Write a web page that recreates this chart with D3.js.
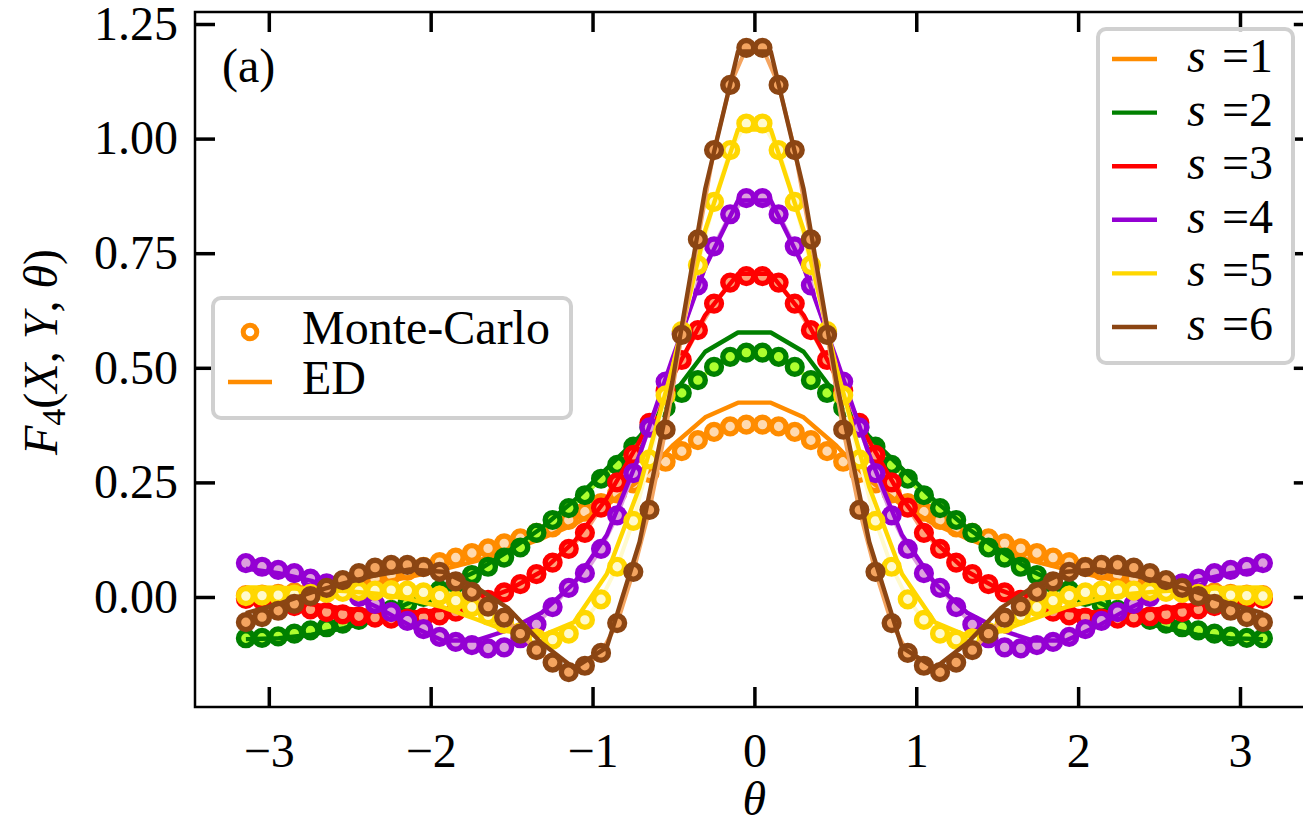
<!DOCTYPE html>
<html>
<head>
<meta charset="utf-8">
<script src="https://cdn.jsdelivr.net/npm/d3@7"></script>
<style>
  body { margin: 0; background: #fff; }
  svg { display: block; font-family: "Liberation Serif", "DejaVu Serif", serif; }
</style>
</head>
<body>
<div id="chart"></div>
<script>
// Data
const sLabels = ["1", "2", "3", "4", "5", "6"];
const xTicks = [-3, -2, -1, 0, 1, 2, 3];
const yTicks = [0, 0.25, 0.5, 0.75, 1.0, 1.25];

// theta grids: 64 Monte-Carlo points and 32 ED points on [-pi, pi]
const thetaMC = d3.range(64).map(k => -Math.PI + k * 2 * Math.PI / 63);
const thetaED = d3.range(32).map(k => -Math.PI + k * 2 * Math.PI / 31);

const mc1 = [0.004,0.005,0.007,0.01,0.015,0.02,0.026,0.033,0.04,0.048,0.057,0.066,0.076,0.086,0.096,0.106,0.117,0.128,0.14,0.152,0.168,0.186,0.205,0.226,0.248,0.27,0.295,0.318,0.342,0.36,0.372,0.376,
             0.376,0.372,0.36,0.342,0.318,0.295,0.27,0.248,0.226,0.205,0.186,0.168,0.152,0.14,0.128,0.117,0.106,0.096,0.086,0.076,0.066,0.057,0.048,0.04,0.033,0.026,0.02,0.015,0.01,0.007,0.005,0.004];
const mc2 = [-0.09,-0.089,-0.086,-0.08,-0.073,-0.066,-0.058,-0.05,-0.04,-0.028,-0.015,0.0,0.015,0.03,0.048,0.066,0.086,0.108,0.14,0.168,0.194,0.222,0.258,0.288,0.328,0.37,0.413,0.445,0.473,0.502,0.524,0.533,
             0.533,0.524,0.502,0.473,0.445,0.413,0.37,0.328,0.288,0.258,0.222,0.194,0.168,0.14,0.108,0.086,0.066,0.048,0.03,0.015,0.0,-0.015,-0.028,-0.04,-0.05,-0.058,-0.066,-0.073,-0.08,-0.086,-0.089,-0.09];
const mc3 = [-0.004,-0.007,-0.013,-0.02,-0.027,-0.033,-0.038,-0.042,-0.045,-0.047,-0.047,-0.045,-0.04,-0.032,-0.02,-0.006,0.01,0.028,0.05,0.075,0.105,0.14,0.195,0.25,0.31,0.38,0.45,0.517,0.582,0.64,0.686,0.7,
             0.7,0.686,0.64,0.582,0.517,0.45,0.38,0.31,0.25,0.195,0.14,0.105,0.075,0.05,0.028,0.01,-0.006,-0.02,-0.032,-0.04,-0.045,-0.047,-0.047,-0.045,-0.042,-0.038,-0.033,-0.027,-0.02,-0.013,-0.007,-0.004];
const mc4 = [0.074,0.066,0.059,0.052,0.04,0.03,0.015,0.0,-0.015,-0.033,-0.052,-0.07,-0.087,-0.098,-0.105,-0.112,-0.11,-0.09,-0.06,-0.022,0.02,0.052,0.105,0.178,0.27,0.37,0.47,0.575,0.68,0.765,0.835,0.87,
             0.87,0.835,0.765,0.68,0.575,0.47,0.37,0.27,0.178,0.105,0.052,0.02,-0.022,-0.06,-0.09,-0.11,-0.112,-0.105,-0.098,-0.087,-0.07,-0.052,-0.033,-0.015,0.0,0.015,0.03,0.04,0.052,0.059,0.066,0.074];
const mc5 = [0.002,0.003,0.004,0.005,0.007,0.009,0.011,0.013,0.014,0.015,0.014,0.01,0.003,-0.008,-0.022,-0.04,-0.058,-0.077,-0.09,-0.093,-0.08,-0.05,-0.005,0.066,0.166,0.3,0.44,0.58,0.724,0.862,0.975,1.033,
             1.033,0.975,0.862,0.724,0.58,0.44,0.3,0.166,0.066,-0.005,-0.05,-0.08,-0.093,-0.09,-0.077,-0.058,-0.04,-0.022,-0.008,0.003,0.01,0.014,0.015,0.014,0.013,0.011,0.009,0.007,0.005,0.004,0.003,0.002];
const mc6 = [-0.055,-0.044,-0.03,-0.015,0.002,0.02,0.037,0.052,0.064,0.07,0.07,0.065,0.055,0.034,0.011,-0.021,-0.045,-0.08,-0.116,-0.143,-0.164,-0.15,-0.122,-0.057,0.055,0.19,0.365,0.572,0.78,0.975,1.117,1.198,
             1.198,1.117,0.975,0.78,0.572,0.365,0.19,0.055,-0.057,-0.122,-0.15,-0.164,-0.143,-0.116,-0.08,-0.045,-0.021,0.011,0.034,0.055,0.065,0.07,0.07,0.064,0.052,0.037,0.02,0.002,-0.015,-0.03,-0.044,-0.055];

const ed1 = [0.003,0.005,0.01,0.018,0.03,0.044,0.06,0.078,0.1,0.127,0.158,0.2,0.255,0.33,0.392,0.424,
             0.424,0.392,0.33,0.255,0.2,0.158,0.127,0.1,0.078,0.06,0.044,0.03,0.018,0.01,0.005,0.003];
const ed2 = [-0.092,-0.09,-0.082,-0.068,-0.045,-0.012,0.022,0.055,0.1,0.15,0.21,0.28,0.35,0.44,0.535,0.577,
             0.577,0.535,0.44,0.35,0.28,0.21,0.15,0.1,0.055,0.022,-0.012,-0.045,-0.068,-0.082,-0.09,-0.092];
const ed3 = [-0.001,-0.007,-0.016,-0.025,-0.032,-0.034,-0.028,-0.012,0.015,0.055,0.12,0.215,0.34,0.48,0.615,0.705,
             0.705,0.615,0.48,0.34,0.215,0.12,0.055,0.015,-0.012,-0.028,-0.034,-0.032,-0.025,-0.016,-0.007,-0.001];
const ed4 = [0.062,0.052,0.035,0.01,-0.022,-0.062,-0.095,-0.095,-0.072,-0.035,0.03,0.135,0.31,0.52,0.72,0.865,
             0.865,0.72,0.52,0.31,0.135,0.03,-0.035,-0.072,-0.095,-0.095,-0.062,-0.022,0.01,0.035,0.052,0.062];
const ed5 = [0.021,0.02,0.017,0.013,0.007,-0.005,-0.022,-0.048,-0.075,-0.085,-0.055,0.05,0.24,0.5,0.8,1.02,
             1.02,0.8,0.5,0.24,0.05,-0.055,-0.085,-0.075,-0.048,-0.022,-0.005,0.007,0.013,0.017,0.02,0.021];
const ed6 = [-0.035,-0.015,0.01,0.03,0.048,0.06,0.055,0.022,-0.025,-0.1,-0.155,-0.11,0.12,0.47,0.89,1.19,
             1.19,0.89,0.47,0.12,-0.11,-0.155,-0.1,-0.025,0.022,0.055,0.06,0.048,0.03,0.01,-0.015,-0.035];

const mcValues = [mc1, mc2, mc3, mc4, mc5, mc6];
const edValues = [ed1, ed2, ed3, ed4, ed5, ed6];

// styles
const lineColors = ["#ff8c00", "#008000", "#ff0000", "#9400d3", "#ffd700", "#8b4513"];
const fillColors = ["#ffdab0", "#adff2f", "#ffa07a", "#dda0dd", "#fffacd", "#f4a460"];
const fontSize = 48;

const width = 1303, height = 823;
const plot = { left: 195, right: 1313.8, top: 12, bottom: 707 };

const svg = d3.select("#chart").append("svg")
  .attr("width", width)
  .attr("height", height)
  .attr("viewBox", `0 0 ${width} ${height}`);

const x = d3.scaleLinear().domain([-3.456, 3.456]).range([plot.left, plot.right]);
const y = d3.scaleLinear().domain([-0.24, 1.2762]).range([plot.bottom, plot.top]);

svg.append("clipPath").attr("id", "clip")
  .append("rect")
  .attr("x", plot.left).attr("y", plot.top)
  .attr("width", plot.right - plot.left).attr("height", plot.bottom - plot.top);

// curves: MC markers joined by a light line, then the ED line
const gData = svg.append("g").attr("clip-path", "url(#clip)");

sLabels.forEach((s, i) => {
  const mc = mcValues[i], ed = edValues[i];

  gData.append("path")
    .datum(mc)
    .attr("fill", "none")
    .attr("stroke", fillColors[i])
    .attr("stroke-width", 4)
    .attr("d", d3.line().x((v, j) => x(thetaMC[j])).y(v => y(v)));

  gData.append("g").selectAll("circle")
    .data(mc).enter().append("circle")
    .attr("cx", (v, j) => x(thetaMC[j]))
    .attr("cy", v => y(v))
    .attr("r", 7.4)
    .attr("fill", fillColors[i])
    .attr("stroke", lineColors[i])
    .attr("stroke-width", 5.4);

  gData.append("path")
    .datum(ed)
    .attr("fill", "none")
    .attr("stroke", lineColors[i])
    .attr("stroke-width", 4.4)
    .attr("stroke-linejoin", "round")
    .attr("d", d3.line().x((v, j) => x(thetaED[j])).y(v => y(v)));
});

// frame
svg.append("rect")
  .attr("x", plot.left).attr("y", plot.top)
  .attr("width", plot.right - plot.left).attr("height", plot.bottom - plot.top)
  .attr("fill", "none").attr("stroke", "#000").attr("stroke-width", 2.5);

function styleAxis(g) {
  g.select(".domain").remove();
  g.attr("font-size", fontSize).attr("font-family", null);
  g.selectAll(".tick line").attr("stroke-width", 3.5);
}

// axes, ticks pointing inward
svg.append("g")
  .attr("transform", `translate(0,${plot.bottom})`)
  .call(d3.axisBottom(x).tickValues(xTicks).tickSize(-20).tickPadding(26).tickFormat(d3.format("d")))
  .call(styleAxis);

svg.append("g")
  .attr("transform", `translate(0,${plot.top})`)
  .call(d3.axisTop(x).tickValues(xTicks).tickSize(-20).tickFormat(""))
  .call(styleAxis);

svg.append("g")
  .attr("transform", `translate(${plot.left},0)`)
  .call(d3.axisLeft(y).tickValues(yTicks).tickSize(-20).tickPadding(17).tickFormat(d3.format(".2f")))
  .call(styleAxis);

svg.append("g")
  .attr("transform", `translate(${plot.right},0)`)
  .call(d3.axisRight(y).tickValues(yTicks).tickSize(-20).tickFormat(""))
  .call(styleAxis);

// axis labels
svg.append("text")
  .attr("x", x(0)).attr("y", 815)
  .attr("text-anchor", "middle")
  .attr("font-size", fontSize).attr("font-style", "italic")
  .text("θ");

const yLab = svg.append("text")
  .attr("transform", "translate(57,352) rotate(-90)")
  .attr("text-anchor", "middle")
  .attr("font-size", fontSize);
yLab.append("tspan").attr("font-style", "italic").text("F");
yLab.append("tspan").attr("font-size", 34).attr("dy", 8).text("4");
yLab.append("tspan").attr("dy", -8).text("(");
yLab.append("tspan").attr("font-style", "italic").text("X");
yLab.append("tspan").text(", ");
yLab.append("tspan").attr("font-style", "italic").text("Y");
yLab.append("tspan").text(", ");
yLab.append("tspan").attr("font-style", "italic").text("θ");
yLab.append("tspan").text(")");

svg.append("text")
  .attr("x", 222).attr("y", 82)
  .attr("font-size", fontSize)
  .text("(a)");

// legend: s values
const legR = svg.append("g");
legR.append("rect")
  .attr("x", 1098).attr("y", 29).attr("width", 195).attr("height", 334)
  .attr("rx", 8)
  .attr("fill", "#fff").attr("fill-opacity", 0.8)
  .attr("stroke", "#d0d0d0").attr("stroke-width", 4);

sLabels.forEach((s, i) => {
  const ly = 59 + i * 53.6;
  legR.append("line")
    .attr("x1", 1112).attr("x2", 1157).attr("y1", ly).attr("y2", ly)
    .attr("stroke", lineColors[i]).attr("stroke-width", 4.4);
  const t = legR.append("text").attr("y", ly + 13).attr("font-size", fontSize);
  t.append("tspan").attr("x", 1187).attr("font-style", "italic").text("s");
  t.append("tspan").attr("x", 1222).text("=" + s);
});

// legend: method
const legL = svg.append("g");
legL.append("rect")
  .attr("x", 213).attr("y", 298).attr("width", 358).attr("height", 120)
  .attr("rx", 8)
  .attr("fill", "#fff").attr("fill-opacity", 0.8)
  .attr("stroke", "#d0d0d0").attr("stroke-width", 4);

legL.append("circle")
  .attr("cx", 250).attr("cy", 332).attr("r", 6.8)
  .attr("fill", "#fff").attr("stroke", lineColors[0]).attr("stroke-width", 5);
legL.append("text")
  .attr("x", 302).attr("y", 344).attr("font-size", fontSize)
  .text("Monte-Carlo");

legL.append("line")
  .attr("x1", 228).attr("x2", 272).attr("y1", 382).attr("y2", 382)
  .attr("stroke", lineColors[0]).attr("stroke-width", 4.4);
legL.append("text")
  .attr("x", 302).attr("y", 394).attr("font-size", fontSize)
  .text("ED");
</script>
</body>
</html>
